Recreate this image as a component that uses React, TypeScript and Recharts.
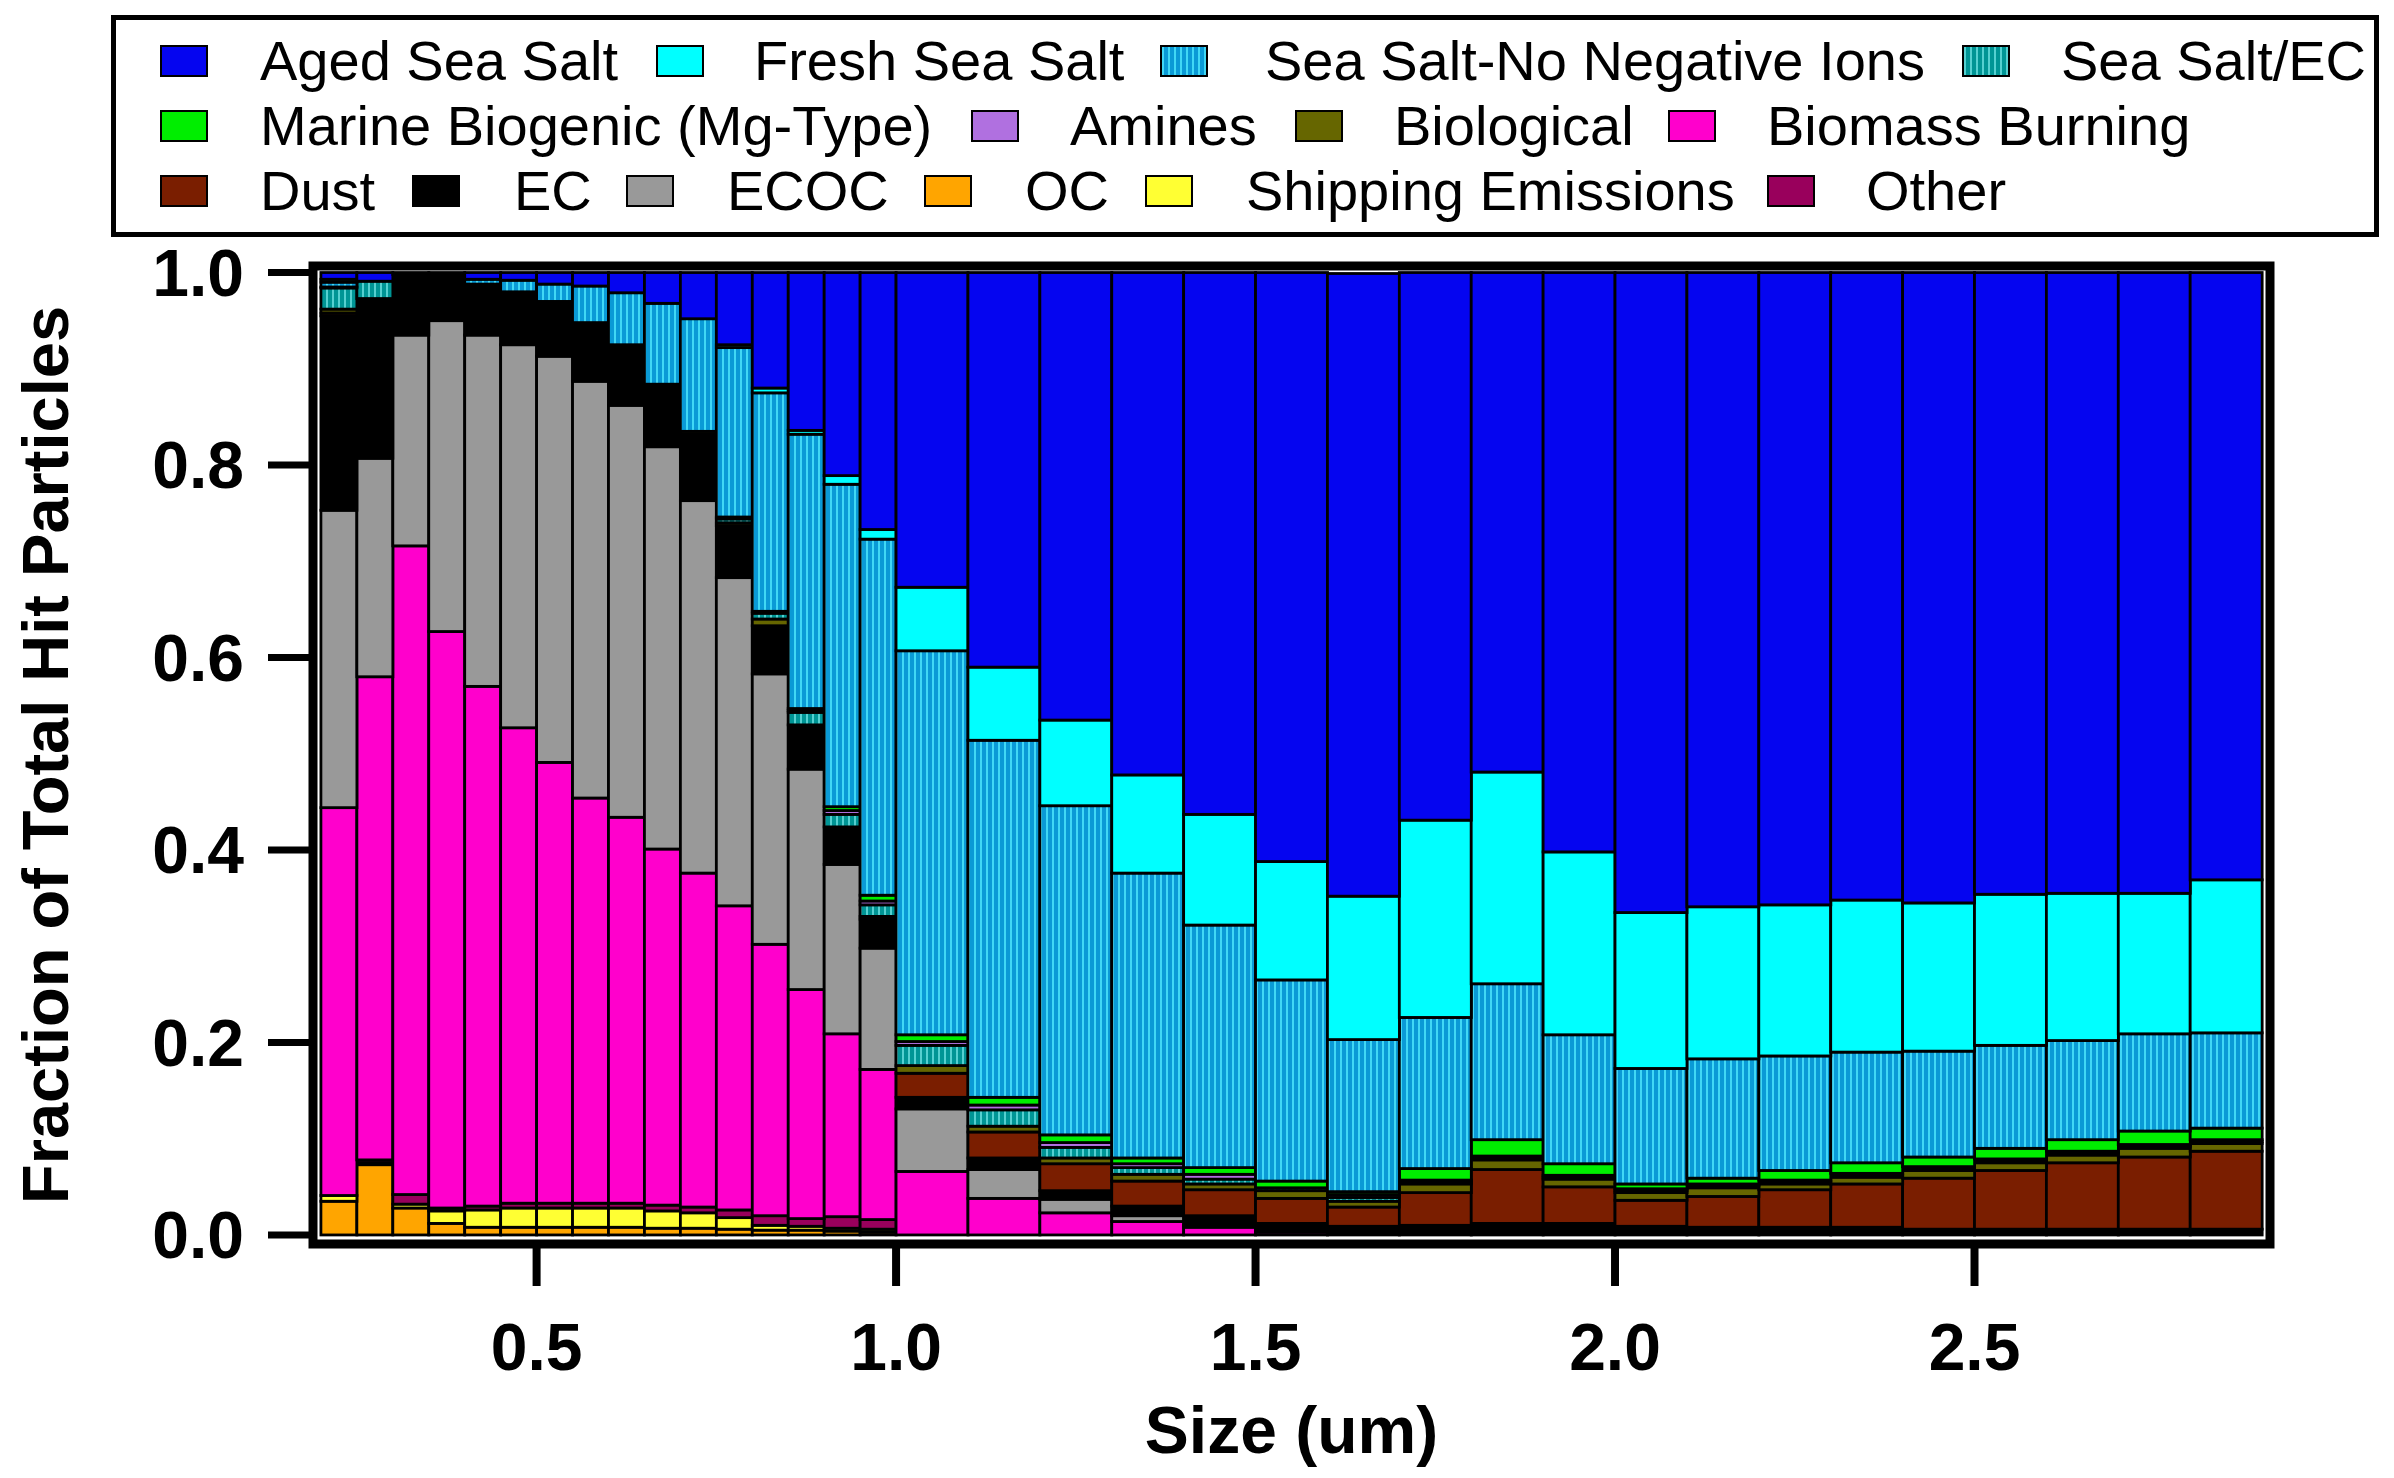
import React from 'react';
import { BarChart, Bar, XAxis, YAxis, Legend, ReferenceArea, Label } from 'recharts';

// ---------- data ----------
const binStart = [
  0.2, 0.25, 0.3, 0.35, 0.4, 0.45, 0.5, 0.55, 0.6, 0.65, 0.7, 0.75, 0.8, 0.85, 0.9, 0.95,
  1.0, 1.1, 1.2, 1.3, 1.4, 1.5, 1.6, 1.7, 1.8, 1.9, 2.0, 2.1, 2.2, 2.3, 2.4, 2.5, 2.6, 2.7, 2.8,
];
const binEnd = [
  0.25, 0.3, 0.35, 0.4, 0.45, 0.5, 0.55, 0.6, 0.65, 0.7, 0.75, 0.8, 0.85, 0.9, 0.95, 1.0,
  1.1, 1.2, 1.3, 1.4, 1.5, 1.6, 1.7, 1.8, 1.9, 2.0, 2.1, 2.2, 2.3, 2.4, 2.5, 2.6, 2.7, 2.8, 2.9,
];

const oc = [0.035, 0.073, 0.028, 0.012, 0.008, 0.008, 0.008, 0.008, 0.008, 0.007, 0.007, 0.006, 0.005, 0.005, 0.004, 0.003,
  0, 0, 0, 0, 0, 0, 0, 0, 0, 0, 0, 0, 0, 0, 0, 0, 0, 0, 0];
const shipping = [0.006, 0.002, 0.004, 0.013, 0.018, 0.02, 0.02, 0.02, 0.02, 0.018, 0.016, 0.012, 0.005, 0.004, 0.003, 0.003,
  0, 0, 0, 0, 0, 0, 0, 0, 0, 0, 0, 0, 0, 0, 0, 0, 0, 0, 0];
const other = [0, 0.003, 0.01, 0.003, 0.004, 0.005, 0.005, 0.005, 0.005, 0.006, 0.006, 0.008, 0.01, 0.008, 0.012, 0.01,
  0, 0, 0, 0, 0, 0, 0, 0, 0, 0, 0, 0, 0, 0, 0, 0, 0, 0, 0];
const biomass = [0.403, 0.502, 0.674, 0.599, 0.54, 0.494, 0.458, 0.421, 0.401, 0.37, 0.347, 0.316, 0.282, 0.238, 0.19, 0.156,
  0.066, 0.038, 0.023, 0.014, 0.008, 0.003, 0.001, 0, 0, 0, 0, 0, 0, 0, 0, 0, 0, 0, 0];
const ecoc = [0.309, 0.227, 0.219, 0.323, 0.365, 0.398, 0.422, 0.433, 0.428, 0.418, 0.387, 0.341, 0.281, 0.229, 0.176, 0.126,
  0.065, 0.03, 0.014, 0.006, 0.002, 0, 0, 0, 0, 0, 0, 0, 0, 0, 0, 0, 0, 0, 0];
const ec = [0.202, 0.164, 0.063, 0.05, 0.053, 0.055, 0.057, 0.061, 0.063, 0.065, 0.069, 0.054, 0.05, 0.046, 0.039, 0.03,
  0.012, 0.012, 0.009, 0.01, 0.01, 0.009, 0.008, 0.01, 0.012, 0.012, 0.009, 0.008, 0.008, 0.008, 0.006, 0.006, 0.006, 0.006, 0.006];
const dust = [0.003, 0, 0, 0, 0, 0, 0, 0, 0, 0, 0, 0, 0, 0, 0, 0,
  0.025, 0.027, 0.028, 0.026, 0.027, 0.026, 0.02, 0.034, 0.056, 0.038, 0.027, 0.032, 0.039, 0.045, 0.053, 0.061, 0.069, 0.075, 0.081];
const biological = [0.004, 0.002, 0, 0, 0, 0, 0, 0, 0, 0, 0.003, 0.003, 0.007, 0, 0, 0.003,
  0.008, 0.006, 0.006, 0.007, 0.006, 0.008, 0.006, 0.009, 0.01, 0.008, 0.008, 0.009, 0.006, 0.007, 0.008, 0.008, 0.008, 0.009, 0.008];
const seaSaltEC = [0.022, 0.018, 0, 0, 0, 0, 0, 0, 0, 0, 0, 0.004, 0.006, 0.013, 0.013, 0.012,
  0.021, 0.017, 0.011, 0.007, 0.005, 0.003, 0.004, 0.002, 0.002, 0.002, 0.002, 0.002, 0.002, 0.002, 0.002, 0.002, 0.002, 0.002, 0.002];
const amines = [0, 0, 0, 0, 0, 0, 0, 0, 0, 0, 0, 0, 0, 0.002, 0.004, 0.004,
  0.004, 0.005, 0.005, 0.004, 0.005, 0, 0.003, 0.002, 0.002, 0.002, 0.002, 0.002, 0.002, 0.002, 0.002, 0.002, 0.002, 0.002, 0.002];
const marine = [0.001, 0, 0, 0, 0, 0, 0, 0, 0, 0, 0, 0.002, 0.002, 0.002, 0.004, 0.006,
  0.007, 0.008, 0.008, 0.006, 0.007, 0.007, 0.003, 0.012, 0.017, 0.012, 0.005, 0.006, 0.01, 0.011, 0.01, 0.011, 0.012, 0.014, 0.012];
const seaSaltNNI = [0.005, 0, 0, 0, 0.005, 0.012, 0.018, 0.038, 0.054, 0.084, 0.117, 0.176, 0.227, 0.285, 0.335, 0.37,
  0.399, 0.371, 0.342, 0.296, 0.252, 0.209, 0.158, 0.157, 0.162, 0.134, 0.12, 0.124, 0.119, 0.115, 0.11, 0.107, 0.103, 0.101, 0.099];
const freshSeaSalt = [0.003, 0, 0, 0, 0, 0, 0, 0, 0, 0, 0, 0.003, 0.005, 0.004, 0.009, 0.01,
  0.066, 0.076, 0.089, 0.102, 0.115, 0.123, 0.149, 0.205, 0.22, 0.19, 0.162, 0.158, 0.157, 0.158, 0.154, 0.157, 0.153, 0.146, 0.159];
const agedSeaSalt = [0.007, 0.009, 0.002, 0, 0.007, 0.008, 0.012, 0.014, 0.021, 0.032, 0.048, 0.075, 0.12, 0.164, 0.211, 0.267,
  0.327, 0.41, 0.465, 0.522, 0.563, 0.612, 0.647, 0.569, 0.519, 0.602, 0.665, 0.659, 0.657, 0.652, 0.655, 0.646, 0.645, 0.645, 0.631];

const xTicks = [0.5, 1.0, 1.5, 2.0, 2.5];
const yTicks = [0, 0.2, 0.4, 0.6, 0.8, 1.0];

// ---------- series (stack order, bottom -> top) ----------
const SERIES = [
  { key: 'oc', name: 'OC', values: oc, fill: '#FFA500', swatch: '#FFA500' },
  { key: 'ship', name: 'Shipping Emissions', values: shipping, fill: '#FFFF33', swatch: '#FFFF33' },
  { key: 'other', name: 'Other', values: other, fill: '#99005C', swatch: '#99005C' },
  { key: 'biomass', name: 'Biomass Burning', values: biomass, fill: '#FF00CC', swatch: '#FF00CC' },
  { key: 'ecoc', name: 'ECOC', values: ecoc, fill: '#999999', swatch: '#999999' },
  { key: 'ec', name: 'EC', values: ec, fill: '#000000', swatch: '#000000' },
  { key: 'dust', name: 'Dust', values: dust, fill: '#7A1E00', swatch: '#7A1E00' },
  { key: 'biological', name: 'Biological', values: biological, fill: '#666600', swatch: '#666600' },
  { key: 'ssec', name: 'Sea Salt/EC', values: seaSaltEC, fill: 'url(#patSSEC)',
    swatch: 'repeating-linear-gradient(90deg, #55D0D0 0px, #55D0D0 2px, #009595 2px, #009595 6px)' },
  { key: 'amines', name: 'Amines', values: amines, fill: '#B070E0', swatch: '#B070E0' },
  { key: 'marine', name: 'Marine Biogenic (Mg-Type)', values: marine, fill: '#00EE00', swatch: '#00EE00' },
  { key: 'ssnni', name: 'Sea Salt-No Negative Ions', values: seaSaltNNI, fill: 'url(#patSSNNI)',
    swatch: 'repeating-linear-gradient(90deg, #40D8F5 0px, #40D8F5 2px, #0A9AD6 2px, #0A9AD6 6px)' },
  { key: 'fresh', name: 'Fresh Sea Salt', values: freshSeaSalt, fill: '#00FFFF', swatch: '#00FFFF' },
  { key: 'aged', name: 'Aged Sea Salt', values: agedSeaSalt, fill: '#0505F0', swatch: '#0505F0' },
];

const data = binStart.map((s, i) => {
  const row: any = { x: (s + binEnd[i]) / 2, w: binEnd[i] - s };
  SERIES.forEach((ser) => {
    row[ser.key] = ser.values[i];
  });
  return row;
});
const MIN_W = Math.min(...data.map((d) => d.w));

// ---------- layout / style ----------
const FONT = '"Liberation Sans", Arial, Helvetica, sans-serif';
const CHART_W = 2378;
const CHART_H = 1462;
const X_DOMAIN: [number, number] = [0.189, 2.911];
const Y_DOMAIN: [number, number] = [-0.0094, 1.0068];

const LEGEND_ROW_Y = [53, 118, 183];
const LEGEND_LAYOUT = [
  { key: 'aged', row: 0, sx: 152, tx: 252 },
  { key: 'fresh', row: 0, sx: 648, tx: 746 },
  { key: 'ssnni', row: 0, sx: 1152, tx: 1257 },
  { key: 'ssec', row: 0, sx: 1954, tx: 2053 },
  { key: 'marine', row: 1, sx: 152, tx: 252 },
  { key: 'amines', row: 1, sx: 963, tx: 1062 },
  { key: 'biological', row: 1, sx: 1287, tx: 1386 },
  { key: 'biomass', row: 1, sx: 1660, tx: 1759 },
  { key: 'dust', row: 2, sx: 152, tx: 252 },
  { key: 'ec', row: 2, sx: 404, tx: 506 },
  { key: 'ecoc', row: 2, sx: 618, tx: 719 },
  { key: 'oc', row: 2, sx: 916, tx: 1017 },
  { key: 'ship', row: 2, sx: 1137, tx: 1238 },
  { key: 'other', row: 2, sx: 1759, tx: 1858 },
];

const LegendBox = () => (
  <div style={{ position: 'relative', width: CHART_W, height: 240 }}>
    <div
      style={{
        position: 'absolute', left: 103, top: 7, width: 2268, height: 222,
        border: '5px solid #000', boxSizing: 'border-box', background: '#fff',
      }}
    />
    {LEGEND_LAYOUT.map((it) => {
      const ser = SERIES.find((s) => s.key === it.key)!;
      const cy = LEGEND_ROW_Y[it.row];
      return (
        <React.Fragment key={it.key}>
          <div
            style={{
              position: 'absolute', left: it.sx, top: cy - 16, width: 48, height: 32,
              background: ser.swatch, border: '2.5px solid #000', boxSizing: 'border-box',
            }}
          />
          <div
            style={{
              position: 'absolute', left: it.tx, top: cy - 28, fontFamily: FONT, fontSize: 56,
              lineHeight: '56px', color: '#000', whiteSpace: 'nowrap',
            }}
          >
            {ser.name}
          </div>
        </React.Fragment>
      );
    })}
  </div>
);

const BinRect = (props: any) => {
  const { x, y, width, height, fill, payload } = props;
  if (!(height > 0.01) || !payload) return null;
  const f = payload.w / MIN_W;
  const w = width * f;
  return (
    <rect x={x + width / 2 - w / 2} y={y} width={w} height={height} fill={fill} stroke="#000" strokeWidth={2.8} />
  );
};

const YTitle = (props: any) => {
  const vb = props.viewBox || { x: 0, y: 258, width: 305, height: 978 };
  const cx = vb.x + 60;
  const cy = vb.y + vb.height / 2;
  return (
    <text x={cx} y={cy} transform={`rotate(-90 ${cx} ${cy})`} textAnchor="middle" fontFamily={FONT}
      fontSize={65} fontWeight="bold" fill="#000">
      Fraction of Total Hit Particles
    </text>
  );
};

const XTitle = (props: any) => {
  const vb = props.viewBox || { x: 305, y: 1236, width: 1957, height: 226 };
  const cx = vb.x + vb.width / 2;
  const by = vb.y + 209;
  return (
    <text x={cx} y={by} textAnchor="middle" fontFamily={FONT} fontSize={66} fontWeight="bold" fill="#000">
      Size (um)
    </text>
  );
};

const tickStyle = { fontSize: 66, fontWeight: 700, fill: '#000', fontFamily: FONT };

export default function App() {
  return (
    <div style={{ width: CHART_W, height: CHART_H, background: '#fff' }}>
      <BarChart
        width={CHART_W}
        height={CHART_H}
        data={data}
        margin={{ top: 258, right: 116, bottom: 0, left: 0 }}
        barCategoryGap={0}
        barGap={0}
      >
        <defs>
          <pattern id="patSSNNI" width="6" height="8" patternUnits="userSpaceOnUse">
            <rect x="0" y="0" width="6" height="8" fill="#0A9AD6" />
            <rect x="0" y="0" width="2" height="8" fill="#40D8F5" />
          </pattern>
          <pattern id="patSSEC" width="6" height="8" patternUnits="userSpaceOnUse">
            <rect x="0" y="0" width="6" height="8" fill="#009595" />
            <rect x="0" y="0" width="2" height="8" fill="#55D0D0" />
          </pattern>
        </defs>
        <XAxis
          dataKey="x"
          type="number"
          domain={X_DOMAIN}
          allowDataOverflow
          ticks={xTicks}
          interval={0}
          tickFormatter={(v: number) => v.toFixed(1)}
          tick={tickStyle}
          tickSize={42}
          tickMargin={37}
          axisLine={false}
          tickLine={{ stroke: '#000', strokeWidth: 8 }}
          height={226}
        >
          <Label content={XTitle} />
        </XAxis>
        <YAxis
          type="number"
          domain={Y_DOMAIN}
          allowDataOverflow
          ticks={yTicks}
          interval={0}
          tickFormatter={(v: number) => v.toFixed(1)}
          tick={tickStyle}
          tickSize={45}
          tickMargin={24}
          axisLine={false}
          tickLine={{ stroke: '#000', strokeWidth: 7 }}
          width={305}
        >
          <Label content={YTitle} />
        </YAxis>
        <Legend
          layout="vertical"
          verticalAlign="middle"
          align="center"
          wrapperStyle={{ top: 0, left: 0, width: CHART_W, height: 240, margin: 0, padding: 0 }}
          content={() => <LegendBox />}
        />
        {SERIES.map((s) => (
          <Bar
            key={s.key}
            dataKey={s.key}
            name={s.name}
            stackId="all"
            fill={s.fill}
            shape={BinRect}
            isAnimationActive={false}
          />
        ))}
        <ReferenceArea
          x1={X_DOMAIN[0]}
          x2={X_DOMAIN[1]}
          y1={Y_DOMAIN[0]}
          y2={Y_DOMAIN[1]}
          fill="none"
          fillOpacity={0}
          stroke="#000"
          strokeWidth={9}
          ifOverflow="visible"
        />
      </BarChart>
    </div>
  );
}
